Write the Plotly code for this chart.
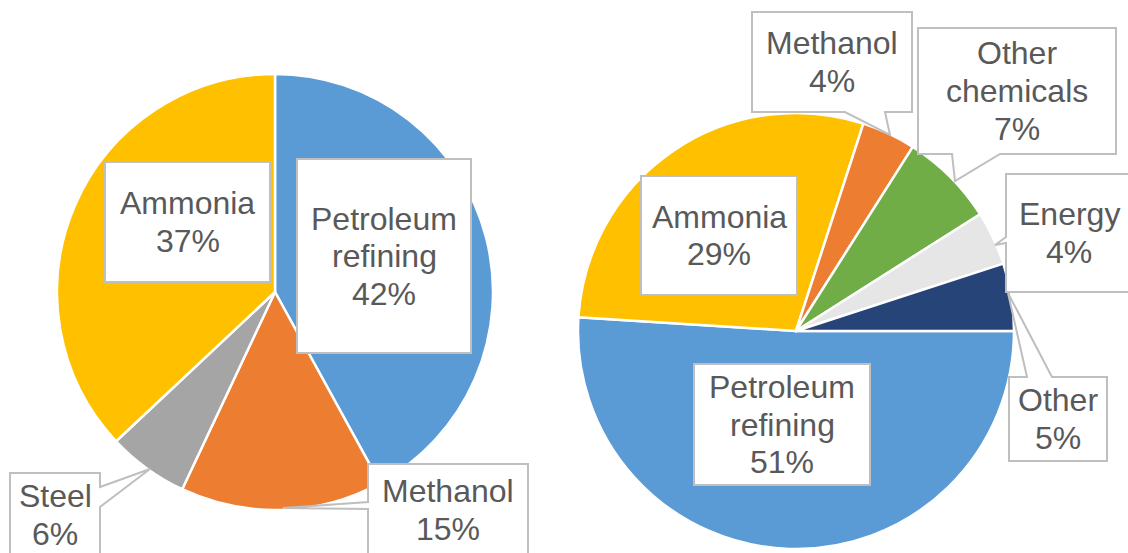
import plotly.graph_objects as go

# ---- data ----
left_categories = ["Petroleum refining", "Methanol", "Steel", "Ammonia"]
left_values = [42, 15, 6, 37]
left_colors = ["#5B9BD5", "#ED7D31", "#A5A5A5", "#FFC000"]

right_categories = ["Petroleum refining", "Ammonia", "Methanol", "Other chemicals", "Energy", "Other"]
right_values = [51, 29, 4, 7, 4, 5]
right_colors = ["#5B9BD5", "#FFC000", "#ED7D31", "#70AD47", "#E7E6E6", "#264478"]

# ---- layout (pixels) ----
W, H = 1128, 553

def px(x):
    return x / W

def py(y):
    return 1 - y / H

# label boxes (x0, y0, x1, y1) and optional pointer (edge, base1, tip, base2)
left_boxes = [
    ((297, 159, 471, 353), None),
    ((368, 464, 528, 556), ("left", (368, 509), (283, 508), (368, 502))),
    ((10, 473, 100, 557), ("right", (100, 487), (150, 469), (100, 507))),
    ((105, 162, 270, 282), None),
]
right_boxes = [
    ((694, 364, 870, 485), None),
    ((641, 176, 797, 295), None),
    ((752, 12, 912, 112), ("bottom", (885, 112), (890, 135), (845, 112))),
    ((918, 28, 1116, 154), ("bottom", (1000, 154), (955, 181), (952, 154))),
    ((1006, 174, 1132, 292), ("left", (1006, 243), (995, 245), (1006, 237))),
    ((1009, 377, 1107, 461), ("top", (1027, 377), (1008, 293), (1052, 377))),
]

TEXT_COLOR = "#595959"
BORDER = "#BFBFBF"
FONT = "Liberation Sans, Arial, sans-serif"
FSIZE = 32
LINE_GAP = 37.5

fig = go.Figure()

fig.add_trace(go.Pie(
    labels=left_categories, values=left_values,
    marker=dict(colors=left_colors, line=dict(color="white", width=2.5)),
    sort=False, direction="clockwise", rotation=0,
    textinfo="none", hoverinfo="label+percent", showlegend=False,
    domain=dict(x=[px(57), px(493)], y=[py(510), py(74)]),
))
fig.add_trace(go.Pie(
    labels=right_categories, values=right_values,
    marker=dict(colors=right_colors, line=dict(color="white", width=2.5)),
    sort=False, direction="clockwise", rotation=90,
    textinfo="none", hoverinfo="label+percent", showlegend=False,
    domain=dict(x=[px(578), px(1014)], y=[py(549), py(113)]),
))


def callout_path(box, pointer):
    x0, y0, x1, y1 = box
    corners = {"top": (x0, y0), "right": (x1, y0), "bottom": (x1, y1), "left": (x0, y1)}
    order = ["top", "right", "bottom", "left"]
    pts = []
    for e in order:
        pts.append(corners[e])
        if pointer is not None and pointer[0] == e:
            pts.extend([pointer[1], pointer[2], pointer[3]])
    d = "M " + " L ".join(f"{px(a):.5f},{py(b):.5f}" for a, b in pts) + " Z"
    return d


shapes = []
annotations = []
for cats, vals, boxes in [(left_categories, left_values, left_boxes),
                          (right_categories, right_values, right_boxes)]:
    for cat, val, (box, pointer) in zip(cats, vals, boxes):
        shapes.append(dict(type="path", path=callout_path(box, pointer),
                           xref="paper", yref="paper", layer="above",
                           fillcolor="white", line=dict(color=BORDER, width=2)))
        lines = cat.split(" ") + [f"{val}%"]
        cx = (box[0] + box[2]) / 2
        cy = (box[1] + box[3]) / 2
        n = len(lines)
        for i, t in enumerate(lines):
            yy = cy + (i - (n - 1) / 2) * LINE_GAP
            annotations.append(dict(x=px(cx), y=py(yy), xref="paper", yref="paper",
                                    text=t, showarrow=False, xanchor="center",
                                    yanchor="middle",
                                    font=dict(family=FONT, size=FSIZE, color=TEXT_COLOR)))

fig.update_layout(
    width=W, height=H, autosize=False,
    margin=dict(l=0, r=0, t=0, b=0),
    paper_bgcolor="white", plot_bgcolor="white",
    shapes=shapes, annotations=annotations,
)

fig.write_html("out.html",
               config={"displayModeBar": False},
               post_script="document.body.style.margin='0';document.body.style.padding='0';document.body.style.overflow='hidden';")
